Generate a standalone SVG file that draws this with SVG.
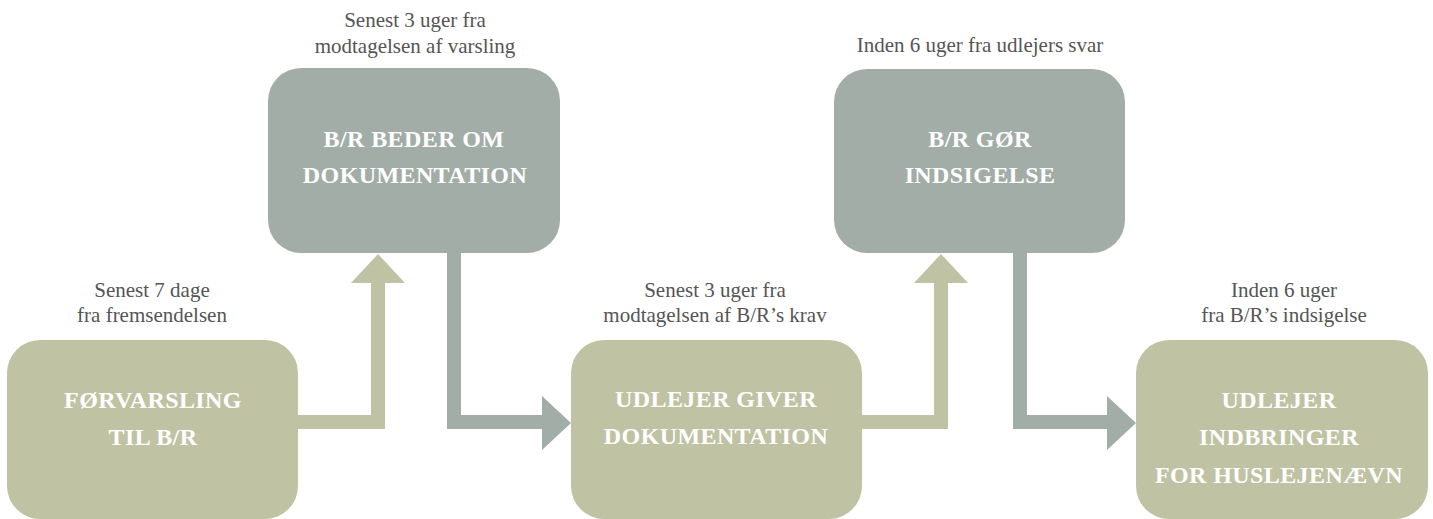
<svg xmlns="http://www.w3.org/2000/svg" width="1433" height="519" viewBox="0 0 1433 519">
<style>
.olive{fill:#BFC3A3}
.gray{fill:#A2ADA7}
.lbl{font-family:"Liberation Serif","DejaVu Serif",serif;font-size:21px;fill:#555555;text-anchor:middle}
.nt{font-family:"Liberation Serif","DejaVu Serif",serif;font-size:24px;font-weight:bold;fill:#FFFFFF;text-anchor:middle;letter-spacing:0.4px}
</style>
<rect width="1433" height="519" fill="#FFFFFF"/>
<g id="connectors">
<path class="olive" d="M297,415 H371 V283 H351 L378,254 L405,283 H385 V429 H297 Z"/>
<path class="gray" d="M447,252 H461 V415 H542 V396 L571,423 L542,450 V429 H447 Z"/>
<path class="olive" d="M861,415 H934 V283 H914 L941,254 L968,283 H948 V429 H861 Z"/>
<path class="gray" d="M1013,252 H1027 V415 H1107 V396 L1136,423 L1107,450 V429 H1013 Z"/>
</g>
<g id="node1">
<rect class="olive" x="7" y="340" width="291" height="179" rx="33"/>
<text class="nt" x="153" y="408">FØRVARSLING</text>
<text class="nt" x="153" y="445">TIL B/R</text>
<text class="lbl" x="152" y="297">Senest 7 dage</text>
<text class="lbl" x="152" y="322">fra fremsendelsen</text>
</g>
<g id="node2">
<rect class="gray" x="268" y="68" width="292" height="185" rx="33"/>
<text class="nt" x="414" y="147">B/R BEDER OM</text>
<text class="nt" x="415" y="183">DOKUMENTATION</text>
<text class="lbl" x="415" y="27">Senest 3 uger fra</text>
<text class="lbl" x="415" y="53">modtagelsen af varsling</text>
</g>
<g id="node3">
<rect class="olive" x="571" y="340" width="291" height="179" rx="33"/>
<text class="nt" x="716" y="407">UDLEJER GIVER</text>
<text class="nt" x="716" y="444">DOKUMENTATION</text>
<text class="lbl" x="715" y="297">Senest 3 uger fra</text>
<text class="lbl" x="715" y="322">modtagelsen af B/R’s krav</text>
</g>
<g id="node4">
<rect class="gray" x="834" y="69" width="291" height="184" rx="33"/>
<text class="nt" x="980" y="147">B/R GØR</text>
<text class="nt" x="980" y="183">INDSIGELSE</text>
<text class="lbl" x="980" y="52">Inden 6 uger fra udlejers svar</text>
</g>
<g id="node5">
<rect class="olive" x="1136" y="340" width="292" height="179" rx="33"/>
<text class="nt" x="1279" y="408">UDLEJER</text>
<text class="nt" x="1279" y="445">INDBRINGER</text>
<text class="nt" x="1279" y="483">FOR HUSLEJENÆVN</text>
<text class="lbl" x="1284" y="297">Inden 6 uger</text>
<text class="lbl" x="1284" y="322">fra B/R’s indsigelse</text>
</g>
</svg>
